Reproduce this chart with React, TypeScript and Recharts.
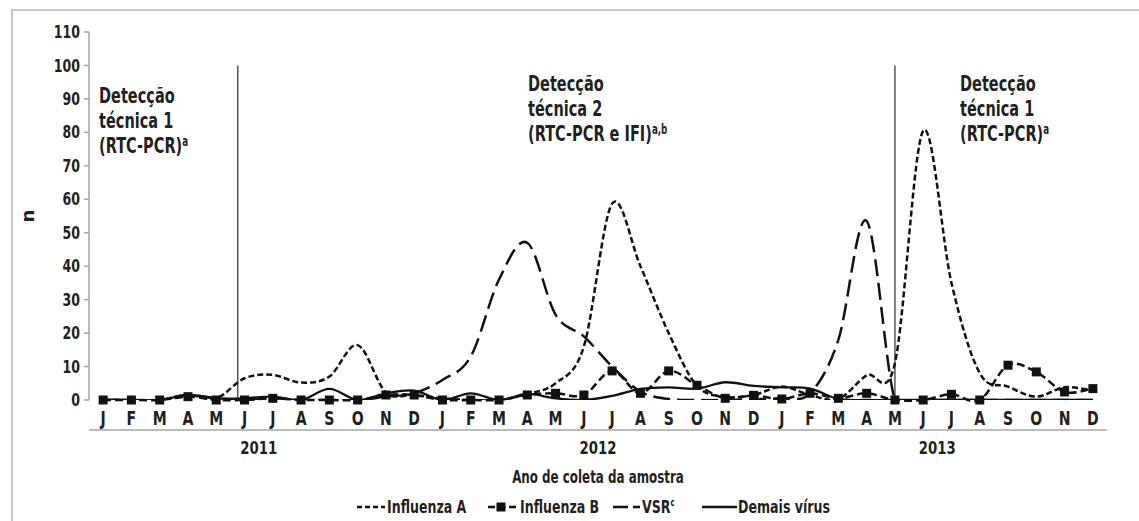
import React from 'react';
import { LineChart, Line, XAxis, YAxis, ReferenceLine, Legend } from 'recharts';

const MONTHS = ['J', 'F', 'M', 'A', 'M', 'J', 'J', 'A', 'S', 'O', 'N', 'D'];
const YEARS = ['2011', '2012', '2013'];
const Y_TICKS = [0, 10, 20, 30, 40, 50, 60, 70, 80, 90, 100, 110];

const influenzaA = [
  0, 0, 0, 1.5, 0.5, 6.5, 7.5, 5.2, 7, 16.4, 2.3, 1.5,
  0.5, 0, 0, 1.8, 5, 16, 58.7, 40, 20, 4.2, 1, 1.5,
  4, 1.5, 0.3, 7.4, 11, 80.5, 35, 8, 4, 1, 3.8, 2.8,
];
const influenzaB = [
  0, 0, 0, 1, 0, 0, 0.5, 0, 0, 0, 1.5, 1.5,
  0, 0, 0, 1.5, 2, 1.5, 8.7, 2, 8.7, 4.4, 0.5, 1.4,
  0.3, 2, 0.5, 2, 0, 0, 1.7, 0, 10.4, 8.4, 2.4, 3.4,
];
const vsr = [
  0, 0, 0, 1.5, 0.5, 0, 0.5, 0, 0, 0, 1, 2,
  6, 13, 36, 47, 25.5, 19, 10, 2.5, 0.3, 0, 0, 0.3,
  0.5, 2, 18, 53.5, 0, 0, 0, 0, 0, 0, 0, 0,
];
const demaisVirus = [
  0, 0, 0, 1.5, 0.5, 0.5, 1, 0, 3.3, 0, 2, 2.8,
  0, 2, 0, 1.8, 0.5, 0, 1.2, 3.3, 3.8, 3.4, 5.3, 4.2,
  3.8, 3.4, 0.3, 0, 0, 0, 0, 0, 0, 0, 0, 0,
];
// positions (in month index units) where the detection technique changed
const TECH_CHANGES = [4.76, 28];
const TECH_LINE_TOP = 100;

const data = YEARS.flatMap((year, yi) =>
  MONTHS.map((month, mi) => {
    const i = yi * 12 + mi;
    return {
      idx: i,
      month,
      year,
      infA: influenzaA[i],
      infB: influenzaB[i],
      vsr: vsr[i],
      demais: demaisVirus[i],
    };
  })
);
const monthTicks = data.map((d) => d.idx);
const sepTicks = [...data.map((d) => d.idx - 0.5), data.length - 0.5];
const yearTicks = YEARS.map((_, k) => k * 12 + 5.5);

const FONT = "'DejaVu Sans', sans-serif";
const TEXT = '#231f20';
const AXIS = '#a6a6a6';
const INK = '#111';
const TICK_SX = 0.74;
const WORD_SX = 0.66;

// Catmull-Rom like smoothing (Excel "smoothed line")
const smoothCurve: any = (context: any) => {
  let pts: number[][] = [];
  return {
    areaStart() {},
    areaEnd() {},
    lineStart() {
      pts = [];
    },
    point(x: number, y: number) {
      pts.push([+x, +y]);
    },
    lineEnd() {
      const n = pts.length;
      if (!n) return;
      context.moveTo(pts[0][0], pts[0][1]);
      for (let i = 0; i < n - 1; i++) {
        const p0 = pts[i - 1] || pts[i];
        const p1 = pts[i];
        const p2 = pts[i + 1];
        const p3 = pts[i + 2] || p2;
        const t = 1 / 6;
        context.bezierCurveTo(
          p1[0] + (p2[0] - p0[0]) * t,
          p1[1] + (p2[1] - p0[1]) * t,
          p2[0] - (p3[0] - p1[0]) * t,
          p2[1] - (p3[1] - p1[1]) * t,
          p2[0],
          p2[1]
        );
      }
    },
  };
};

const SquareDot = (props: any) => {
  const { cx, cy, index } = props;
  if (cx == null || cy == null) return <g key={`d${index}`} />;
  return <rect key={`d${index}`} x={cx - 4.5} y={cy - 4.5} width={9} height={9} fill={INK} />;
};

const makeTick = (fmt: (v: number) => string, anchor: string, fontSize: number, dy: string) => (p: any) => (
  <text
    transform={`translate(${p.x},${p.y}) scale(${TICK_SX},1)`}
    textAnchor={anchor}
    dy={dy}
    fill={TEXT}
    fontSize={fontSize}
    fontWeight={700}
    fontFamily={FONT}
  >
    {fmt(p.payload.value)}
  </text>
);

const legendItems = [
  { key: 'infA', label: 'Influenza A', x1: 357, x2: 385, dash: '5 3', marker: false, tx: 387 },
  { key: 'infB', label: 'Influenza B', x1: 488, x2: 517, dash: '7 3.5', marker: true, tx: 520 },
  { key: 'vsr', label: 'VSR', sup: 'c', x1: 613, x2: 640, dash: '15 5', marker: false, tx: 642 },
  { key: 'demais', label: 'Demais vírus', x1: 702, x2: 737, dash: undefined, marker: false, tx: 738 },
];

const LegendContent = () => (
  <svg width={1139} height={26} style={{ display: 'block' }}>
    {legendItems.map((s) => (
      <g key={s.key}>
        <line x1={s.x1} y1={13} x2={s.x2} y2={13} stroke={INK} strokeWidth={2.5} strokeDasharray={s.dash} />
        {s.marker && <rect x={(s.x1 + s.x2) / 2 - 6} y={8.5} width={9} height={9} fill={INK} />}
        <text
          transform={`translate(${s.tx},13) scale(0.7,1)`}
          dy="0.36em"
          fill={TEXT}
          fontSize={18}
          fontWeight={700}
          fontFamily={FONT}
        >
          {s.label}
          {s.sup && (
            <tspan fontSize={10} dy={-7}>
              {s.sup}
            </tspan>
          )}
        </text>
      </g>
    ))}
  </svg>
);

const Sup = ({ children }: any) => (
  <span style={{ fontSize: '0.6em', position: 'relative', top: '-0.55em' }}>{children}</span>
);

const annotStyle: React.CSSProperties = {
  position: 'absolute',
  fontFamily: FONT,
  fontWeight: 700,
  fontSize: 22,
  lineHeight: '25px',
  color: TEXT,
  whiteSpace: 'nowrap',
  transform: `scaleX(${WORD_SX})`,
  transformOrigin: 'left top',
};

const lineCommon = {
  xAxisId: 'm',
  type: smoothCurve,
  stroke: INK,
  activeDot: false,
  isAnimationActive: false,
} as const;

export default function App() {
  return (
    <div
      style={{
        position: 'absolute',
        left: 0,
        top: 0,
        width: 1139,
        height: 521,
        overflow: 'hidden',
        background: '#fff',
      }}
    >
      <div
        style={{
          position: 'absolute',
          left: 11,
          top: 9,
          width: 1200,
          height: 600,
          borderLeft: '2.5px solid #c8c8c8',
          borderTop: '2.5px solid #c8c8c8',
        }}
      />
      <div style={{ position: 'absolute', left: 0, top: 0 }}>
        <LineChart width={1139} height={521} data={data} margin={{ top: 32, right: 32, left: 0, bottom: 50 }}>
          <XAxis
            xAxisId="sep"
            dataKey="idx"
            type="number"
            domain={[-0.5, 35.5]}
            ticks={sepTicks}
            interval={0}
            height={1}
            tick={false}
            tickSize={5}
            tickLine={{ stroke: AXIS, strokeWidth: 1.5 }}
            axisLine={{ stroke: AXIS, strokeWidth: 1.5 }}
          />
          <XAxis
            xAxisId="m"
            dataKey="idx"
            type="number"
            domain={[-0.5, 35.5]}
            ticks={monthTicks}
            interval={0}
            height={30}
            tickSize={6}
            tickMargin={6}
            tickLine={false}
            axisLine={false}
            tick={makeTick((v) => data[v]?.month ?? '', 'middle', 19, '0.71em')}
          />
          <XAxis
            xAxisId="y"
            dataKey="idx"
            type="number"
            domain={[-0.5, 35.5]}
            ticks={yearTicks}
            interval={0}
            height={40}
            tickSize={0}
            tickMargin={10}
            tickLine={false}
            axisLine={false}
            tick={makeTick((v) => YEARS[Math.floor(v / 12)] ?? '', 'middle', 18, '0.71em')}
          />
          <YAxis
            width={89}
            domain={[0, 110]}
            ticks={Y_TICKS}
            interval={0}
            tickSize={5}
            tickMargin={4}
            axisLine={{ stroke: AXIS, strokeWidth: 1.5 }}
            tickLine={{ stroke: AXIS, strokeWidth: 1.5 }}
            tick={makeTick((v) => String(v), 'end', 17, '0.36em')}
          />
          <YAxis yAxisId="clip" hide domain={[0, 110]} allowDataOverflow />
          {TECH_CHANGES.map((x) => (
            <ReferenceLine
              key={x}
              xAxisId="m"
              segment={[
                { x, y: 0 },
                { x, y: TECH_LINE_TOP },
              ]}
              stroke="#555"
              strokeWidth={1.5}
            />
          ))}
          <Line {...lineCommon} yAxisId="clip" dataKey="demais" strokeWidth={2.3} dot={false} />
          <Line {...lineCommon} yAxisId="clip" dataKey="vsr" strokeWidth={2.5} strokeDasharray="17 7" dot={false} />
          <Line {...lineCommon} dataKey="infB" strokeWidth={2.5} strokeDasharray="8 4" dot={<SquareDot />} />
          <Line {...lineCommon} yAxisId="clip" dataKey="infA" strokeWidth={2.5} strokeDasharray="6 3" dot={false} />
          <Legend
            layout="horizontal"
            verticalAlign="middle"
            align="center"
            wrapperStyle={{ left: 0, top: 494, width: 1139, height: 26 }}
            content={() => <LegendContent />}
          />
        </LineChart>
      </div>
      <div style={{ ...annotStyle, left: 99, top: 83 }}>
        Detecção
        <br />
        técnica 1
        <br />
        (RTC-PCR)<Sup>a</Sup>
      </div>
      <div style={{ ...annotStyle, left: 528, top: 71 }}>
        Detecção
        <br />
        técnica 2
        <br />
        (RTC-PCR e IFI)<Sup>a,b</Sup>
      </div>
      <div style={{ ...annotStyle, left: 960, top: 71 }}>
        Detecção
        <br />
        técnica 1
        <br />
        (RTC-PCR)<Sup>a</Sup>
      </div>
      <div
        style={{
          position: 'absolute',
          left: 398,
          width: 400,
          top: 467,
          textAlign: 'center',
          whiteSpace: 'nowrap',
          fontFamily: FONT,
          fontWeight: 700,
          fontSize: 18,
          lineHeight: '20px',
          color: TEXT,
          transform: `scaleX(${WORD_SX})`,
          transformOrigin: 'center top',
        }}
      >
        Ano de coleta da amostra
      </div>
      <div
        style={{
          position: 'absolute',
          left: 18,
          top: 206,
          width: 20,
          height: 20,
          lineHeight: '20px',
          textAlign: 'center',
          transform: 'rotate(-90deg)',
          fontFamily: FONT,
          fontWeight: 700,
          fontSize: 18,
          color: TEXT,
        }}
      >
        n
      </div>
    </div>
  );
}
